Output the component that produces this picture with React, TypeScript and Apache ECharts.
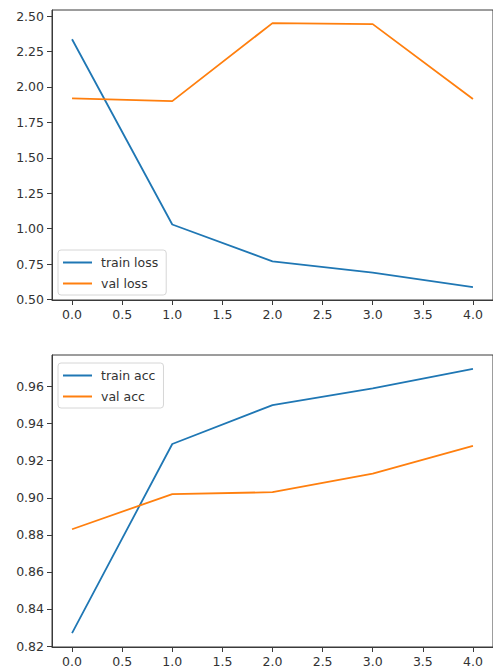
import React, { useEffect, useRef } from "react";
import * as echarts from "echarts";

const epochs = [0, 1, 2, 3, 4];
const trainLoss = [2.336, 1.03, 0.77, 0.69, 0.589];
const valLoss = [1.92, 1.9, 2.45, 2.443, 1.915];
const trainAcc = [0.827, 0.929, 0.95, 0.959, 0.9695];
const valAcc = [0.883, 0.902, 0.903, 0.913, 0.928];

const xTicks = [0, 0.5, 1, 1.5, 2, 2.5, 3, 3.5, 4];
const lossTicks = [0.5, 0.75, 1.0, 1.25, 1.5, 1.75, 2.0, 2.25, 2.5];
const accTicks = [0.82, 0.84, 0.86, 0.88, 0.9, 0.92, 0.94, 0.96];

const BLUE = "#1f77b4";
const ORANGE = "#ff7f0e";
const AXIS = "#3a3a3a";
const FONT = "DejaVu Sans";

const pairs = (xs: number[], ys: number[]) => xs.map((x, i) => [x, ys[i]]);

function xAxisCfg(gridIndex: number) {
  return {
    type: "value",
    gridIndex,
    min: -0.2,
    max: 4.2,
    axisLine: { show: true, onZero: false, lineStyle: { color: AXIS, width: 1 } },
    axisTick: { show: true, length: 5, customValues: xTicks, lineStyle: { color: AXIS } },
    axisLabel: {
      customValues: xTicks,
      margin: 8,
      color: "#333",
      fontFamily: FONT,
      fontSize: 12.5,
      formatter: (v: number) => v.toFixed(1),
    },
    splitLine: { show: false },
  };
}

function yAxisCfg(gridIndex: number, min: number, max: number, ticks: number[], digits: number) {
  return {
    type: "value",
    gridIndex,
    min,
    max,
    axisLine: { show: true, onZero: false, lineStyle: { color: AXIS, width: 1 } },
    axisTick: { show: true, length: 5, customValues: ticks, lineStyle: { color: AXIS } },
    axisLabel: {
      customValues: ticks,
      margin: 8,
      color: "#333",
      fontFamily: FONT,
      fontSize: 12.5,
      formatter: (v: number) => v.toFixed(digits),
    },
    splitLine: { show: false },
  };
}

function legendCfg(names: string[], top: number) {
  return {
    data: names,
    orient: "vertical",
    left: 58,
    top,
    icon: "rect",
    itemWidth: 29,
    itemHeight: 2,
    itemGap: 8,
    padding: [6, 8, 5, 5],
    backgroundColor: "rgba(255,255,255,0.8)",
    borderColor: "#d6d6d6",
    borderWidth: 1,
    borderRadius: 3,
    textStyle: { color: "#333", fontFamily: FONT, fontSize: 12.5, padding: [0, 0, 0, 4] },
  };
}

function lineSeries(name: string, xi: number, data: number[][], color: string) {
  return {
    type: "line",
    name,
    xAxisIndex: xi,
    yAxisIndex: xi,
    data,
    showSymbol: false,
    symbol: "none",
    lineStyle: { color, width: 1.8 },
    itemStyle: { color },
  };
}

export default function App() {
  const ref = useRef<HTMLDivElement>(null);
  useEffect(() => {
    if (!ref.current) return;
    const chart = echarts.init(ref.current, null, { renderer: "svg" });
    chart.setOption({
      animation: false,
      backgroundColor: "#ffffff",
      grid: [
        { left: 52, top: 10, width: 448, height: 290, show: true, borderColor: AXIS, borderWidth: 1 },
        { left: 52, top: 355, width: 448, height: 292, show: true, borderColor: AXIS, borderWidth: 1 },
      ],
      xAxis: [xAxisCfg(0), xAxisCfg(1)],
      yAxis: [
        yAxisCfg(0, 0.4975, 2.5425, lossTicks, 2),
        yAxisCfg(1, 0.8195, 0.977, accTicks, 2),
      ],
      legend: [legendCfg(["train loss", "val loss"], 250), legendCfg(["train acc", "val acc"], 363)],
      series: [
        lineSeries("train loss", 0, pairs(epochs, trainLoss), BLUE),
        lineSeries("val loss", 0, pairs(epochs, valLoss), ORANGE),
        lineSeries("train acc", 1, pairs(epochs, trainAcc), BLUE),
        lineSeries("val acc", 1, pairs(epochs, valAcc), ORANGE),
      ],
    });
    return () => chart.dispose();
  }, []);
  return (
    <div
      ref={ref}
      style={{ position: "fixed", left: 0, top: 0, width: 493, height: 672, background: "#fff" }}
    />
  );
}
